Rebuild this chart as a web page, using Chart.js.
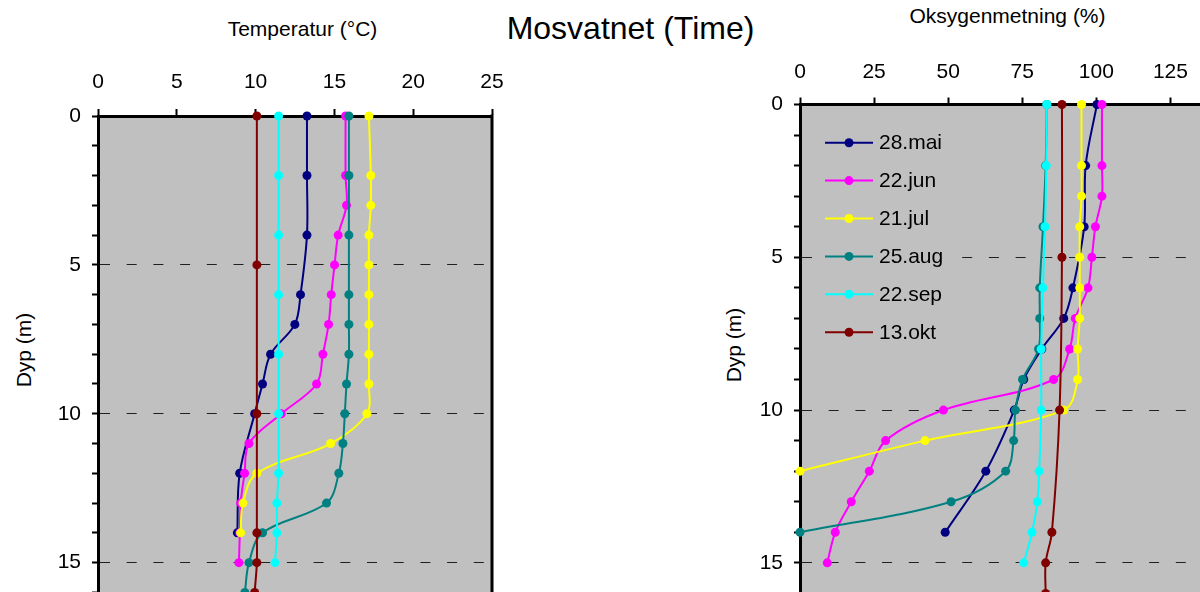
<!DOCTYPE html>
<html lang="no">
<head>
<meta charset="utf-8">
<title>Mosvatnet (Time)</title>
<script src="https://cdn.jsdelivr.net/npm/chart.js@4.4.1/dist/chart.umd.min.js"></script>
<style>
  html, body { margin: 0; padding: 0; width: 1200px; height: 592px; overflow: hidden; background: #fff; }
  body { position: relative; font-family: "Liberation Sans", Arial, sans-serif; color: #000; }
  canvas { position: absolute; top: 0; }
  #temperatur { left: 0; }
  #oksygen { left: 710px; }
  .tekst { position: absolute; transform: translate(-50%, -50%); line-height: 1; white-space: nowrap; font-size: 21px; }
  .loddrett { transform: translate(-50%, -50%) rotate(-90deg); }
</style>
</head>
<body>
<div class="tekst" style="left:630.5px; top:27.5px; font-size:32px">Mosvatnet (Time)</div>
<div class="tekst" style="left:302.5px; top:28px">Temperatur (°C)</div>
<div class="tekst" style="left:1007.5px; top:15px">Oksygenmetning (%)</div>
<div class="tekst loddrett" style="left:23px; top:350px">Dyp (m)</div>
<div class="tekst loddrett" style="left:733px; top:345px">Dyp (m)</div>

<canvas id="temperatur" width="520" height="616"></canvas>
<canvas id="oksygen" width="565" height="617"></canvas>

<script>
// måledatoer og farger (samme rekkefølge i begge figurer)
const datoer = ["28.mai", "22.jun", "21.jul", "25.aug", "22.sep", "13.okt"];
const farger = ["#000080", "#ff00ff", "#ffff00", "#008080", "#00ffff", "#800000"];

// aksemerker
const tempTicks = [0, 5, 10, 15, 20, 25];
const oksyTicks = [0, 25, 50, 75, 100, 125, 150];
const dypTicks = [0, 5, 10, 15];
const dypMaks = 16;

// 28.mai
const dyp28mai = [0, 2, 4, 6, 7, 8, 9, 10, 12, 14];
const temp28mai = [13.26, 13.26, 13.26, 12.85, 12.49, 10.95, 10.44, 9.94, 8.99, 8.84];
const oksy28mai = [100.2, 96.4, 95.9, 92.1, 89.0, 81.6, 75.5, 72.3, 62.7, 49.0];

// 22.jun
const dyp22jun = [0, 2, 3, 4, 5, 6, 7, 8, 9, 10, 11, 12, 13, 14, 15];
const temp22jun = [15.71, 15.71, 15.77, 15.24, 15.01, 14.8, 14.63, 14.27, 13.87, 11.63, 9.58, 9.3, 9.05, 9.0, 8.94];
const oksy22jun = [101.9, 101.9, 101.9, 99.7, 98.5, 97.2, 92.9, 91.0, 85.6, 48.4, 28.9, 23.4, 17.3, 11.9, 9.2];

// 21.jul
const dyp21jul = [0, 2, 3, 4, 5, 6, 7, 8, 9, 10, 11, 12, 13, 14];
const temp21jul = [17.19, 17.31, 17.31, 17.19, 17.19, 17.19, 17.19, 17.19, 17.19, 17.06, 14.76, 10.08, 9.2, 9.05];
const dypOksy21jul = [0, 2, 3, 4, 5, 6, 7, 8, 9, 10, 11, 12];
const oksy21jul = [95.0, 95.0, 95.0, 94.4, 94.4, 94.4, 94.4, 93.7, 93.7, 89.0, 42.2, 0];

// 25.aug
const dyp25aug = [0, 2, 4, 6, 7, 8, 9, 10, 11, 12, 13, 14, 15, 16];
const temp25aug = [15.92, 15.92, 15.92, 15.92, 15.92, 15.92, 15.77, 15.66, 15.54, 15.28, 14.5, 10.44, 9.58, 9.32];
const dypOksy25aug = [0, 2, 4, 6, 7, 8, 9, 10, 11, 12, 13, 14];
const oksy25aug = [83.3, 82.9, 82.0, 80.9, 80.9, 80.5, 75.1, 72.7, 72.1, 69.4, 51.0, 0];

// 22.sep
const dyp22sep = [0, 2, 4, 6, 8, 10, 12, 13, 14, 15];
const temp22sep = [11.46, 11.46, 11.46, 11.46, 11.46, 11.46, 11.46, 11.35, 11.35, 11.23];
const oksy22sep = [83.3, 83.1, 82.7, 82.0, 81.4, 81.4, 80.7, 80.1, 78.3, 75.5];

// 13.okt
const dyp13okt = [0, 5, 10, 14, 15, 16];
const temp13okt = [10.08, 10.08, 10.08, 10.08, 10.08, 9.94];
const oksy13okt = [88.4, 88.4, 87.6, 85.0, 82.9, 82.9];

const skrift = { family: '"Liberation Sans", Arial, sans-serif', size: 21 };

function punkter(dyp, verdier) {
  return dyp.map((d, i) => ({ x: verdier[i], y: d }));
}

function lagDatasett(serier) {
  return serier.map((s, i) => ({
    label: datoer[i],
    data: punkter(s[0], s[1]),
    borderColor: farger[i],
    backgroundColor: farger[i],
    pointBackgroundColor: farger[i],
    pointBorderColor: farger[i],
    pointBorderWidth: 0,
    pointRadius: 4.5,
    borderWidth: 2,
    tension: 0.35,
    showLine: true,
    clip: false,
    order: serier.length - i   // siste dato tegnes øverst, som i Excel
  }));
}

// grå plottflate og høyre ramme
const plotFlate = {
  id: "plotFlate",
  beforeDraw(chart) {
    const { ctx, chartArea: a } = chart;
    ctx.save();
    ctx.fillStyle = "#c0c0c0";
    ctx.fillRect(a.left, a.top, a.right - a.left, a.bottom - a.top);
    ctx.restore();
  },
  beforeDatasetsDraw(chart) {
    const { ctx, chartArea: a } = chart;
    ctx.save();
    ctx.strokeStyle = "#000";
    ctx.lineWidth = 3;
    ctx.beginPath();
    ctx.moveTo(a.right, a.top - 1.5);
    ctx.lineTo(a.right, a.bottom);
    ctx.stroke();
    ctx.restore();
  }
};

// forklaring inne i oksygenplottet (grå boks som dekker rutenettet)
const forklaring = {
  id: "forklaring",
  afterDraw(chart) {
    const { ctx, chartArea: a } = chart;
    const n = chart.data.datasets.length;
    ctx.save();
    ctx.fillStyle = "#c0c0c0";
    ctx.fillRect(a.left + 13, a.top + 16, 142, n * 37.9 + 6);
    ctx.font = '21px "Liberation Sans", Arial, sans-serif';
    ctx.textBaseline = "middle";
    chart.data.datasets.forEach((ds, i) => {
      const x = a.left + 25;
      const y = a.top + 38.2 + i * 37.9;
      ctx.strokeStyle = ds.borderColor;
      ctx.lineWidth = 2;
      ctx.beginPath();
      ctx.moveTo(x, y);
      ctx.lineTo(x + 48, y);
      ctx.stroke();
      ctx.fillStyle = ds.borderColor;
      ctx.beginPath();
      ctx.arc(x + 24, y, 4.5, 0, Math.PI * 2);
      ctx.fill();
      ctx.fillStyle = "#000";
      ctx.fillText(ds.label, x + 54, y + 1);
    });
    ctx.restore();
  }
};

function lagProfil(id, serier, xTicks, oppe, venstre, padding, labelPad, plugins) {
  return new Chart(document.getElementById(id), {
    type: "scatter",
    data: { datasets: lagDatasett(serier) },
    options: {
      responsive: false,
      animation: false,
      devicePixelRatio: 1,
      layout: { padding: padding },
      plugins: { legend: { display: false }, tooltip: { enabled: false } },
      scales: {
        x: {
          type: "linear",
          position: "top",
          min: xTicks[0],
          max: xTicks[xTicks.length - 1],
          ticks: {
            stepSize: xTicks[1] - xTicks[0],
            autoSkip: false,
            maxRotation: 0,
            padding: labelPad,
            color: "#000",
            font: skrift
          },
          grid: { drawOnChartArea: false, drawTicks: true, tickLength: 7, tickColor: "#000", tickWidth: 2 },
          border: { display: true, color: "#000", width: 3 },
          afterFit(s) { s.height = oppe; }
        },
        y: {
          type: "linear",
          reverse: true,
          min: 0,
          max: dypMaks,
          ticks: {
            stepSize: 1,
            autoSkip: false,
            padding: 11,
            color: "#000",
            font: skrift,
            callback: v => dypTicks.includes(v) ? String(v) : ""
          },
          grid: {
            color: c => (c.tick && c.tick.value > 0 && dypTicks.includes(c.tick.value)) ? "#202020" : "rgba(0,0,0,0)",
            lineWidth: 1,
            tickLength: 6,
            tickColor: "#000",
            tickWidth: 2
          },
          border: { display: true, color: "#000", width: 3, dash: [10, 16.7] },
          afterFit(s) { s.width = venstre; }
        }
      }
    },
    plugins: plugins
  });
}

lagProfil("temperatur", [
  [dyp28mai, temp28mai],
  [dyp22jun, temp22jun],
  [dyp21jul, temp21jul],
  [dyp25aug, temp25aug],
  [dyp22sep, temp22sep],
  [dyp13okt, temp13okt]
], tempTicks, 116, 98, { left: 0, top: 0, right: 28, bottom: 0 }, 14, [plotFlate]);

lagProfil("oksygen", [
  [dyp28mai, oksy28mai],
  [dyp22jun, oksy22jun],
  [dypOksy21jul, oksy21jul],
  [dypOksy25aug, oksy25aug],
  [dyp22sep, oksy22sep],
  [dyp13okt, oksy13okt]
], oksyTicks, 104.5, 90, { left: 0, top: 0, right: 26, bottom: 0 }, 13, [plotFlate, forklaring]);
</script>
</body>
</html>
